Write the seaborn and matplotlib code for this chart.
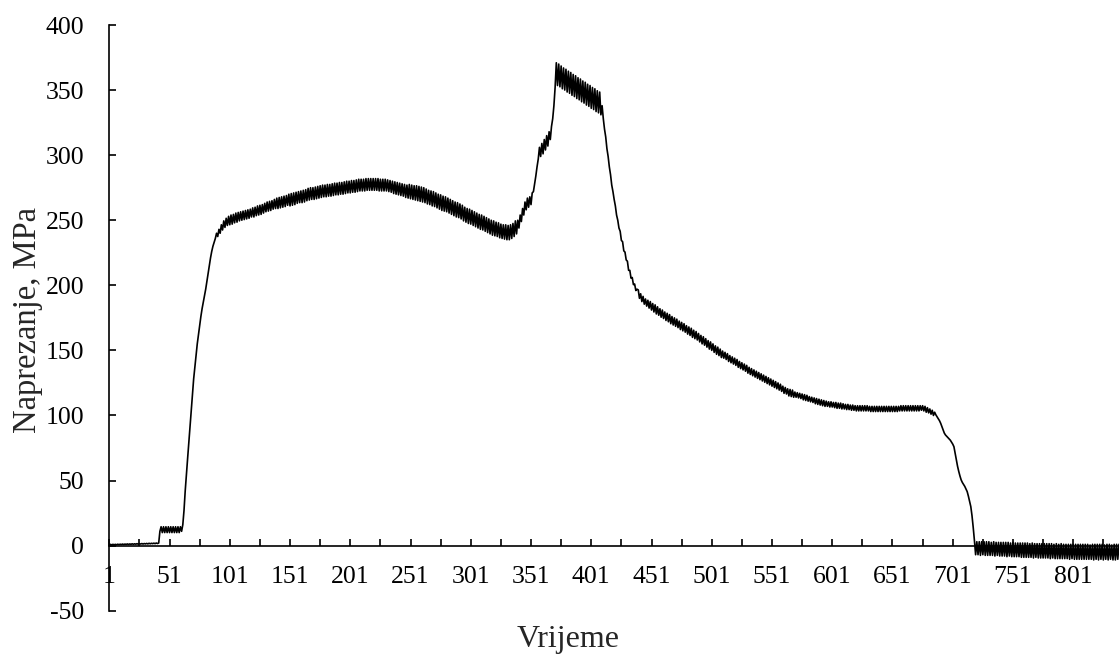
import matplotlib
matplotlib.use("Agg")
import matplotlib.pyplot as plt
import seaborn as sns
import pandas as pd

# ---- data (stress readings, MPa) by sample index 1..839 ----
baseline = [0.5, 1.0, 0.5, 1.0, 0.6, 1.0, 0.6, 1.1, 0.7, 1.1,
            0.8, 1.2, 0.8, 1.2, 0.9, 1.3, 0.9, 1.3, 1.0, 1.4,
            1.0, 1.4, 1.1, 1.5, 1.1, 1.5, 1.2, 1.6, 1.2, 1.6,
            1.3, 1.7, 1.3, 1.8, 1.4, 1.8, 1.5, 1.9, 1.5, 2.0, 1.6, 2.0]
step = [11, 14.5, 10, 14.5, 10, 14.5, 10, 14.5, 10, 14.5,
        10, 14.5, 10, 14.5, 10, 14.5, 10, 14.5]
rise = [11, 16, 27, 42, 55, 67, 79, 92, 104, 116,
        128, 137, 146, 155, 162, 169, 176, 182, 187, 192,
        197, 203, 209, 215, 221, 226, 230, 233, 236]
plateau = [240, 237.5, 243, 240, 246.5, 242.5, 249.5, 244.5, 251.5, 246,
           253, 246.5, 254, 247, 254.5, 248, 255.5, 248.5, 256, 249.5,
           256.5, 250, 257, 250.5, 257.5, 251, 258, 251.5, 258.5, 252.5,
           259.5, 252.5, 260, 253.5, 261, 254, 261.5, 254.5, 262, 255.5,
           263, 256.5, 264, 257, 264.5, 257.5, 265, 258.5, 266, 259,
           267, 259, 267.5, 259.5, 268, 260, 268.5, 260.5, 269, 261.5,
           270, 261, 270.5, 261.5, 271, 262, 271.5, 263, 272, 263.5,
           272.5, 263.5, 273, 264, 273.5, 265, 274.5, 265.5, 275, 266,
           275, 266, 275.5, 266.5, 276, 267, 276.5, 267.5, 277, 268,
           277, 268, 277.5, 268.5, 277.5, 268.5, 278, 269, 278.5, 269.5,
           278.5, 269.5, 279, 270, 279, 270, 279.5, 270.5, 280, 271,
           280, 271, 280.5, 271.5, 280.5, 271.5, 281, 272, 281.5, 272.5,
           281.5, 272.5, 281.5, 272.5, 282, 273, 282, 273, 282, 273,
           282, 273, 282, 273, 282, 272.5, 281.5, 272.5, 281.5, 272.5,
           281.5, 272.5, 281, 272, 280.5, 271.5, 280, 270.5, 279.5, 270,
           279, 269.5, 278.5, 269, 278, 268.5, 277.5, 267.5, 277, 267,
           277.5, 266.5, 277, 266, 276.5, 265.5, 276.5, 265, 276, 264.5,
           275.5, 264, 275, 263.5, 274, 262.5, 273, 262, 272.5, 261,
           272, 260.5, 271, 259.5, 270, 258.5, 269.5, 257.5, 268.5, 257,
           268, 256.5, 267, 255.5, 266, 254.5, 265, 253.5, 264, 252.5,
           263.5, 252, 262.5, 251, 261.5, 249.5, 260, 248.5, 259, 247.5,
           258.5, 247, 257.5, 246, 256.5, 245, 255.5, 244, 254.5, 243,
           254, 242.5, 253, 241.5, 252, 240.5, 251, 239.5, 250, 238.5,
           249.5, 238, 248.5, 237.5, 248, 236.5, 247, 236, 246.5, 235.5,
           246.5, 235, 246, 235, 246.5, 236, 247.5, 237.5, 249.5, 239.5]
climb = [250, 244, 254, 249, 259, 254, 264, 258, 267, 260,
         268, 262, 271, 272, 278, 284, 291, 297, 306, 299,
         309, 301, 312, 304, 315, 307, 318, 312, 322, 328,
         338, 352]
peak = [371, 353.5, 370, 352.5, 368.5, 351, 367, 350, 366, 348.5,
        364.5, 347.5, 363.5, 346, 362, 345, 361, 343.5, 359.5, 342.5,
        358.5, 341, 357, 340, 356, 338.5, 354.5, 337.5, 353.5, 336,
        352, 335, 351, 333.5, 349.5, 332.5, 348.5, 331]
drop = [338, 328, 320, 314, 305, 299, 291, 285, 277, 272,
        266, 261, 254, 250, 244, 241.5, 234.5, 233.5, 226.5, 225.5,
        219.5, 218.5, 211.5, 211.5, 205.5, 206, 200.5, 201, 196, 197]
decay = [196.5, 190, 193.5, 187.5, 191.5, 185.5, 189.5, 184, 188.5, 182.5,
         187.5, 181, 186, 179.5, 185, 178, 183.5, 177, 182, 175.5,
         181, 174.5, 179.5, 173, 178.5, 172, 177.5, 170.5, 176, 169.5,
         175, 168.5, 174, 167.5, 172.5, 166, 171.5, 165, 170.5, 164,
         169, 162.5, 168, 161.5, 167, 160, 165.5, 159, 164.5, 158,
         163, 156.5, 161.5, 155, 160.5, 154, 159, 152.5, 157.5, 151,
         156.5, 150, 155, 148.5, 153.5, 147, 152.5, 146, 151, 144.5,
         149.5, 144, 148.5, 143, 147.5, 141.5, 146, 140.5, 145, 139.5,
         144, 138.5, 143, 137, 141.5, 136, 140.5, 135, 139.5, 134,
         138.5, 132.5, 137, 131.5, 136, 130.5, 135, 129.5, 134, 128.5,
         133, 127.5, 132, 126.5, 131, 125.5, 130, 124.5, 129, 123.5,
         128, 122.5, 127, 121.5, 126, 120.5, 125, 119.5, 124, 118.5,
         122.5, 117, 121.5, 116.5, 120.5, 115, 120, 114.5, 119.5, 114,
         118, 114, 117.5, 113.5, 117, 113, 116.5, 112, 116, 111.5,
         115.5, 111, 114.5, 110.5, 114, 110, 113.5, 109, 113, 108.5,
         112.5, 108, 112, 107.5, 111.5, 107, 111, 107, 110.5, 106.5,
         110.5, 106.5, 110, 106, 110, 105.5, 109.5, 105.5, 109.5, 105,
         109, 105, 108.5, 104.5, 108.5, 104.5, 108, 104, 108, 104,
         107.5, 103.5, 107.5, 103.5, 107.5, 103.5, 107.5, 103.5, 107.5, 103.5,
         107.5, 103.5, 107, 103, 107, 103, 107, 103, 107, 103,
         107, 103, 107, 103, 107, 103, 107, 103, 107, 103,
         107, 103, 107, 103, 107, 103, 107, 103.5, 107.5, 103.5,
         107.5, 103.5, 107.5, 103.5, 107.5, 103.5, 107.5, 103.5, 107.5, 103.5,
         107.5, 103.5, 107.5, 103.5, 107.5, 104, 107.5, 103.5, 107, 102.5,
         106, 102, 105, 101, 104, 100, 102.5]
final_drop = [100.5, 99, 97.5, 96, 94, 91.5, 89, 86.5, 85, 84,
              83, 82, 81, 79.5, 78, 76, 71, 66, 61, 57,
              53.5, 50.5, 48.5, 47, 45.5, 43.5, 41.5, 38, 34, 30,
              23, 14, 4]
tail = [-7, 3, -7, 3, -7.5, 3, -7, 3, -7.5, 3,
        -7.5, 3, -7.5, 2.5, -7.5, 3, -8, 2.5, -7.5, 2.5,
        -8, 2.5, -8, 2.5, -8, 2.5, -8.5, 2.5, -8, 2,
        -8.5, 2.5, -8.5, 2, -8.5, 2, -8.5, 2, -9, 2,
        -9, 2, -9, 2, -9, 1.5, -9, 2, -9.5, 1.5,
        -9, 1.5, -9.5, 1.5, -9.5, 1.5, -9.5, 1.5, -9.5, 1.5,
        -9.5, 1.5, -10, 1.5, -9.5, 1, -10, 1.5, -10, 1,
        -10, 1.5, -10, 1, -10, 1, -10, 1, -10.5, 1,
        -10, 1, -10.5, 1, -10.5, 1, -10.5, 1, -10.5, 1,
        -10.5, 1, -10.5, 1, -10.5, 0.5, -10.5, 1, -11, 1,
        -10.5, 1, -11, 1, -10.5, 1, -11, 0.5, -10.5, 1,
        -11, 1, -10.5, 0.5, -11, 1, -11, 1, -10.5, 1]

stress = baseline + step + rise + plateau + climb + peak + drop + decay + final_drop + tail
sample = list(range(1, len(stress) + 1))
df = pd.DataFrame({"Vrijeme": sample, "Naprezanje": stress})

tick_positions = list(range(1, 840, 25))
tick_labels = [str(t) if (t - 1) % 50 == 0 else "" for t in tick_positions]
y_ticks = [-50, 0, 50, 100, 150, 200, 250, 300, 350, 400]

# ---- style ----
sns.set_style("white")
plt.rcParams["font.family"] = ["Liberation Serif", "DejaVu Serif"]
plt.rcParams["axes.unicode_minus"] = False

W, H = 1119, 655
fig = plt.figure(figsize=(W / 100, H / 100), dpi=100)
left_px, top_px, bottom_px = 109.3, 25.0, 610.7
ax = fig.add_axes([left_px / W, 1 - bottom_px / H, 1 - left_px / W, (bottom_px - top_px) / H])

sns.lineplot(data=df, x="Vrijeme", y="Naprezanje", ax=ax, color="black",
             linewidth=1.2, estimator=None)

ax.set_xlim(1, len(stress))
ax.set_ylim(-50, 400)
ax.set_xticks(tick_positions)
ax.set_xticklabels(tick_labels)
ax.set_yticks(y_ticks)
ax.set_yticklabels([str(v) for v in y_ticks])

for s in ["top", "right"]:
    ax.spines[s].set_visible(False)
ax.spines["bottom"].set_position(("data", 0))
for s in ["left", "bottom"]:
    ax.spines[s].set_color("black")
    ax.spines[s].set_linewidth(1.2)

ax.tick_params(axis="x", which="major", bottom=True, top=False, direction="in",
               length=5, width=1.2, colors="black", labelsize=18.5, pad=15)
ax.tick_params(axis="y", which="major", left=True, right=False, direction="in",
               length=5, width=1.2, colors="black", labelsize=18.5, pad=18)
ax.set_xlabel("")
ax.set_ylabel("")

fig.text(568 / W, 1 - 639 / H, "Vrijeme", ha="center", va="center", fontsize=23)
fig.text(28 / W, 1 - 320 / H, "Naprezanje, MPa", ha="center", va="center",
         rotation=90, fontsize=23.5)

fig.savefig("out.png", dpi=100)
